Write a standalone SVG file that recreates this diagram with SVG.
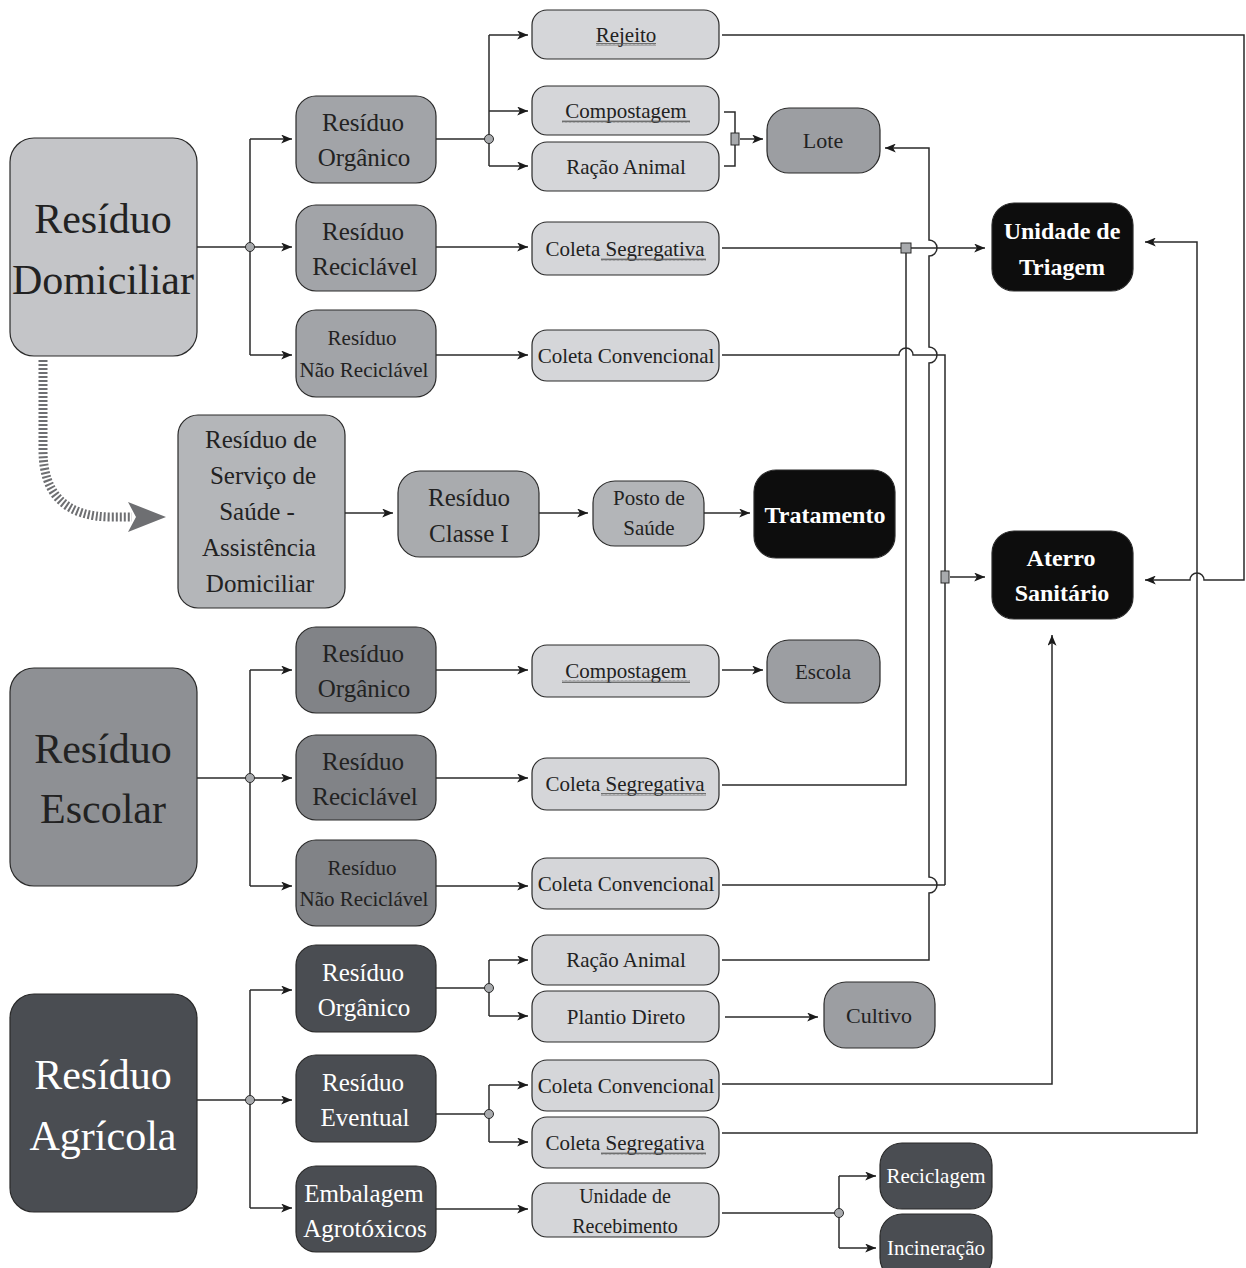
<svg xmlns="http://www.w3.org/2000/svg" width="1246" height="1268" viewBox="0 0 1246 1268">
<style>
.n{stroke:#2a2a2a;stroke-width:1.2}
.t{font-family:"Liberation Serif","Times New Roman",serif;fill:#222;text-anchor:middle}
.w{fill:#fff}
.b{font-weight:bold}
.c path,.c line{fill:none;stroke:#2a2a2a;stroke-width:1.5}
.dot{fill:#a8aaad;stroke:#2a2a2a;stroke-width:1}
.sq{fill:#a8aaad;stroke:#2a2a2a;stroke-width:1}
.sqg{fill:url(#wave)}
</style>
<defs>
<marker id="ar" viewBox="0 0 12 10" refX="12" refY="5" markerWidth="12" markerHeight="9" markerUnits="userSpaceOnUse" orient="auto">
<path d="M0,0 L12,5 L0,10 L3,5 z" fill="#1a1a1a"/>
</marker>
<pattern id="wave" width="4" height="3" patternUnits="userSpaceOnUse">
<path d="M0,2.5 L1,0.5 L2,2.5 L3,0.5 L4,2.5" fill="none" stroke="#555" stroke-width="0.8"/>
</pattern>
</defs>
<rect width="1246" height="1268" fill="#fff"/>

<!-- connectors -->
<g id="connectors" class="c">
<!-- Domiciliar split -->
<path d="M197,247 H250"/>
<path d="M250,139 V355"/>
<path d="M250,139 H292" marker-end="url(#ar)"/>
<path d="M250,247 H292" marker-end="url(#ar)"/>
<path d="M250,355 H292" marker-end="url(#ar)"/>
<!-- Organico dom -->
<path d="M436,139 H489"/>
<path d="M489,35 V166"/>
<path d="M489,35 H528" marker-end="url(#ar)"/>
<path d="M489,111 H528" marker-end="url(#ar)"/>
<path d="M489,166 H528" marker-end="url(#ar)"/>
<path d="M436,247 H528" marker-end="url(#ar)"/>
<path d="M436,355 H528" marker-end="url(#ar)"/>
<!-- Rejeito to Aterro -->
<path d="M722,35 H1244 V580 H1204 A7,7 0 0 0 1190,580 H1145" marker-end="url(#ar)"/>
<!-- bracket to Lote -->
<path d="M724,112 H735 V166 H724"/>
<path d="M740,139 H763" marker-end="url(#ar)"/>
<!-- Racao Animal agr to Lote -->
<path d="M722,960 H929 V893 A8,8 0 0 0 929,877 V363 A8,8 0 0 0 929,347 V256 A8,8 0 0 0 929,240 V148 H885" marker-end="url(#ar)"/>
<!-- Coleta Segregativa dom to Triagem -->
<path d="M722,248 H985" marker-end="url(#ar)"/>
<!-- Coleta Segregativa esc -->
<path d="M722,785 H906 V252"/>
<!-- Coleta Convencional dom -->
<path d="M722,355 H899 A7,7 0 0 1 913,355 H945 V885"/>
<!-- Coleta Convencional esc -->
<path d="M722,885 H945"/>
<path d="M950,577 H985" marker-end="url(#ar)"/>
<!-- Coleta Convencional agr -->
<path d="M722,1084 H1052 V635" marker-end="url(#ar)"/>
<!-- Coleta Segregativa agr -->
<path d="M722,1133 H1197 V242 H1145" marker-end="url(#ar)"/>
<!-- Escolar split -->
<path d="M197,778 H250"/>
<path d="M250,670 V886"/>
<path d="M250,670 H292" marker-end="url(#ar)"/>
<path d="M250,778 H292" marker-end="url(#ar)"/>
<path d="M250,886 H292" marker-end="url(#ar)"/>
<path d="M436,670 H528" marker-end="url(#ar)"/>
<path d="M722,670 H763" marker-end="url(#ar)"/>
<path d="M436,778 H528" marker-end="url(#ar)"/>
<path d="M436,886 H528" marker-end="url(#ar)"/>
<!-- Agricola split -->
<path d="M197,1100 H250"/>
<path d="M250,990 V1208"/>
<path d="M250,990 H292" marker-end="url(#ar)"/>
<path d="M250,1100 H292" marker-end="url(#ar)"/>
<path d="M250,1208 H292" marker-end="url(#ar)"/>
<path d="M436,988 H489"/>
<path d="M489,960 V1016"/>
<path d="M489,960 H528" marker-end="url(#ar)"/>
<path d="M489,1016 H528" marker-end="url(#ar)"/>
<path d="M725,1017 H818" marker-end="url(#ar)"/>
<path d="M436,1114 H489"/>
<path d="M489,1085 V1142"/>
<path d="M489,1085 H528" marker-end="url(#ar)"/>
<path d="M489,1142 H528" marker-end="url(#ar)"/>
<path d="M436,1209 H528" marker-end="url(#ar)"/>
<path d="M722,1213 H839"/>
<path d="M839,1176 V1248"/>
<path d="M839,1176 H876" marker-end="url(#ar)"/>
<path d="M839,1248 H876" marker-end="url(#ar)"/>
<!-- health chain -->
<path d="M345,513 H393" marker-end="url(#ar)"/>
<path d="M539,513 H588" marker-end="url(#ar)"/>
<path d="M704,513 H750" marker-end="url(#ar)"/>
<!-- hatched arrow from Domiciliar -->
<path d="M43,360 V450 Q43,517 112,517 H132" style="stroke:#6e6f72;stroke-width:9;stroke-dasharray:2 2"/>
<path d="M128,502 L166,517 L128,532 L136,517 z" style="fill:#6e6f72;stroke:none"/>
<!-- junction dots and squares -->
<circle class="dot" cx="250" cy="247" r="4.5"/>
<circle class="dot" cx="489" cy="139" r="4.5"/>
<circle class="dot" cx="250" cy="778" r="4.5"/>
<circle class="dot" cx="250" cy="1100" r="4.5"/>
<circle class="dot" cx="489" cy="988" r="4.5"/>
<circle class="dot" cx="489" cy="1114" r="4.5"/>
<circle class="dot" cx="839" cy="1213" r="4.5"/>
<rect class="sq" x="731" y="133" width="8" height="12"/>
<rect class="sq" x="901" y="243" width="10" height="10"/>
<rect class="sq" x="941" y="571" width="8" height="12"/>
</g>

<!-- source nodes -->
<g id="residuo-domiciliar"><rect class="n" x="10" y="138" width="187" height="218" rx="24" fill="#c4c5c8"/>
<text class="t" x="103" y="233" font-size="42">Resíduo</text><text class="t" x="103" y="294" font-size="42">Domiciliar</text></g>
<g id="residuo-escolar"><rect class="n" x="10" y="668" width="187" height="218" rx="24" fill="#8e9094"/>
<text class="t" x="103" y="763" font-size="42">Resíduo</text><text class="t" x="103" y="823" font-size="42">Escolar</text></g>
<g id="residuo-agricola"><rect class="n" x="10" y="994" width="187" height="218" rx="24" fill="#4a4d52"/>
<text class="t w" x="103" y="1089" font-size="42">Resíduo</text><text class="t w" x="103" y="1150" font-size="42">Agrícola</text></g>

<!-- domiciliar second column -->
<g id="dom-organico"><rect class="n" x="296" y="96" width="140" height="87" rx="20" fill="#a2a4a8"/>
<text class="t" x="363" y="131" font-size="25">Resíduo</text><text class="t" x="364" y="166" font-size="25">Orgânico</text></g>
<g id="dom-reciclavel"><rect class="n" x="296" y="205" width="140" height="86" rx="20" fill="#a2a4a8"/>
<text class="t" x="363" y="240" font-size="25">Resíduo</text><text class="t" x="365" y="275" font-size="25">Reciclável</text></g>
<g id="dom-nao-reciclavel"><rect class="n" x="296" y="310" width="140" height="87" rx="20" fill="#a2a4a8"/>
<text class="t" x="362" y="345" font-size="21">Resíduo</text><text class="t" x="364" y="377" font-size="21">Não Reciclável</text></g>

<!-- domiciliar third column -->
<g id="rejeito"><rect class="n" x="532" y="10" width="187" height="49" rx="15" fill="#d5d6d9"/>
<text class="t" x="626" y="42" font-size="21">Rejeito</text><rect class="sqg" x="596" y="43" width="60" height="3"/></g>
<g id="dom-compostagem"><rect class="n" x="532" y="86" width="187" height="49" rx="15" fill="#d5d6d9"/>
<text class="t" x="626" y="118" font-size="21">Compostagem</text><rect class="sqg" x="562" y="120" width="128" height="3"/></g>
<g id="dom-racao-animal"><rect class="n" x="532" y="142" width="187" height="49" rx="15" fill="#d5d6d9"/>
<text class="t" x="626" y="174" font-size="21">Ração Animal</text></g>
<g id="dom-coleta-segregativa"><rect class="n" x="532" y="222" width="187" height="53" rx="15" fill="#d5d6d9"/>
<text class="t" x="625" y="256" font-size="21">Coleta Segregativa</text><rect class="sqg" x="601" y="258" width="105" height="3"/></g>
<g id="dom-coleta-convencional"><rect class="n" x="532" y="330" width="187" height="51" rx="15" fill="#d5d6d9"/>
<text class="t" x="626" y="363" font-size="21">Coleta Convencional</text></g>

<g id="lote"><rect class="n" x="767" y="108" width="113" height="65" rx="22" fill="#9c9ea2"/>
<text class="t" x="823" y="148" font-size="22">Lote</text></g>

<g id="unidade-triagem"><rect class="n" x="992" y="203" width="141" height="88" rx="22" fill="#0d0d0d"/>
<text class="t w b" x="1062" y="239" font-size="24">Unidade de</text><text class="t w b" x="1062" y="275" font-size="24">Triagem</text></g>
<g id="aterro-sanitario"><rect class="n" x="992" y="531" width="141" height="88" rx="22" fill="#0d0d0d"/>
<text class="t w b" x="1061" y="566" font-size="24">Aterro</text><text class="t w b" x="1062" y="601" font-size="24">Sanitário</text></g>

<!-- health chain -->
<g id="residuo-servico-saude"><rect class="n" x="178" y="415" width="167" height="193" rx="20" fill="#b4b6b9"/>
<text class="t" x="261" y="448" font-size="25">Resíduo de</text>
<text class="t" x="263" y="484" font-size="25">Serviço de</text>
<text class="t" x="257" y="520" font-size="25">Saúde -</text>
<text class="t" x="259" y="556" font-size="25">Assistência</text>
<text class="t" x="260" y="592" font-size="25">Domiciliar</text></g>
<g id="residuo-classe-i"><rect class="n" x="398" y="471" width="141" height="86" rx="22" fill="#a9abae"/>
<text class="t" x="469" y="506" font-size="25">Resíduo</text><text class="t" x="469" y="542" font-size="25">Classe I</text></g>
<g id="posto-saude"><rect class="n" x="593" y="481" width="111" height="65" rx="22" fill="#b3b5b8"/>
<text class="t" x="649" y="505" font-size="21">Posto de</text><text class="t" x="649" y="535" font-size="21">Saúde</text></g>
<g id="tratamento"><rect class="n" x="754" y="470" width="141" height="88" rx="22" fill="#0d0d0d"/>
<text class="t w b" x="825" y="523" font-size="24">Tratamento</text></g>

<!-- escolar -->
<g id="esc-organico"><rect class="n" x="296" y="627" width="140" height="86" rx="20" fill="#818387"/>
<text class="t" x="363" y="662" font-size="25">Resíduo</text><text class="t" x="364" y="697" font-size="25">Orgânico</text></g>
<g id="esc-reciclavel"><rect class="n" x="296" y="735" width="140" height="85" rx="20" fill="#818387"/>
<text class="t" x="363" y="770" font-size="25">Resíduo</text><text class="t" x="365" y="805" font-size="25">Reciclável</text></g>
<g id="esc-nao-reciclavel"><rect class="n" x="296" y="840" width="140" height="86" rx="20" fill="#818387"/>
<text class="t" x="362" y="875" font-size="21">Resíduo</text><text class="t" x="364" y="906" font-size="21">Não Reciclável</text></g>
<g id="esc-compostagem"><rect class="n" x="532" y="645" width="187" height="52" rx="15" fill="#d5d6d9"/>
<text class="t" x="626" y="678" font-size="21">Compostagem</text><rect class="sqg" x="562" y="680" width="128" height="3"/></g>
<g id="escola"><rect class="n" x="767" y="640" width="113" height="63" rx="22" fill="#9c9ea2"/>
<text class="t" x="823" y="679" font-size="21">Escola</text></g>
<g id="esc-coleta-segregativa"><rect class="n" x="532" y="758" width="187" height="52" rx="15" fill="#d5d6d9"/>
<text class="t" x="625" y="791" font-size="21">Coleta Segregativa</text><rect class="sqg" x="601" y="793" width="105" height="3"/></g>
<g id="esc-coleta-convencional"><rect class="n" x="532" y="858" width="187" height="51" rx="15" fill="#d5d6d9"/>
<text class="t" x="626" y="891" font-size="21">Coleta Convencional</text></g>

<!-- agricola -->
<g id="agr-organico"><rect class="n" x="296" y="945" width="140" height="87" rx="20" fill="#4a4d52"/>
<text class="t w" x="363" y="981" font-size="25">Resíduo</text><text class="t w" x="364" y="1016" font-size="25">Orgânico</text></g>
<g id="agr-eventual"><rect class="n" x="296" y="1055" width="140" height="87" rx="20" fill="#4a4d52"/>
<text class="t w" x="363" y="1091" font-size="25">Resíduo</text><text class="t w" x="365" y="1126" font-size="25">Eventual</text></g>
<g id="agr-embalagem"><rect class="n" x="296" y="1166" width="140" height="86" rx="20" fill="#4a4d52"/>
<text class="t w" x="364" y="1202" font-size="25">Embalagem</text><text class="t w" x="365" y="1237" font-size="25">Agrotóxicos</text></g>
<g id="agr-racao-animal"><rect class="n" x="532" y="935" width="187" height="50" rx="15" fill="#d5d6d9"/>
<text class="t" x="626" y="967" font-size="21">Ração Animal</text></g>
<g id="agr-plantio-direto"><rect class="n" x="532" y="991" width="187" height="51" rx="15" fill="#d5d6d9"/>
<text class="t" x="626" y="1024" font-size="21">Plantio Direto</text></g>
<g id="cultivo"><rect class="n" x="824" y="982" width="111" height="66" rx="22" fill="#9c9ea2"/>
<text class="t" x="879" y="1023" font-size="22">Cultivo</text></g>
<g id="agr-coleta-convencional"><rect class="n" x="532" y="1060" width="187" height="51" rx="15" fill="#d5d6d9"/>
<text class="t" x="626" y="1093" font-size="21">Coleta Convencional</text></g>
<g id="agr-coleta-segregativa"><rect class="n" x="532" y="1117" width="187" height="51" rx="15" fill="#d5d6d9"/>
<text class="t" x="625" y="1150" font-size="21">Coleta Segregativa</text><rect class="sqg" x="601" y="1152" width="105" height="3"/></g>
<g id="unidade-recebimento"><rect class="n" x="532" y="1183" width="187" height="54" rx="15" fill="#d5d6d9"/>
<text class="t" x="625" y="1203" font-size="20">Unidade de</text><text class="t" x="625" y="1233" font-size="20">Recebimento</text></g>
<g id="reciclagem"><rect class="n" x="880" y="1143" width="112" height="66" rx="22" fill="#4a4d52"/>
<text class="t w" x="936" y="1183" font-size="21">Reciclagem</text></g>
<g id="incineracao"><rect class="n" x="880" y="1214" width="112" height="66" rx="22" fill="#4a4d52"/>
<text class="t w" x="936" y="1255" font-size="21">Incineração</text></g>
</svg>
